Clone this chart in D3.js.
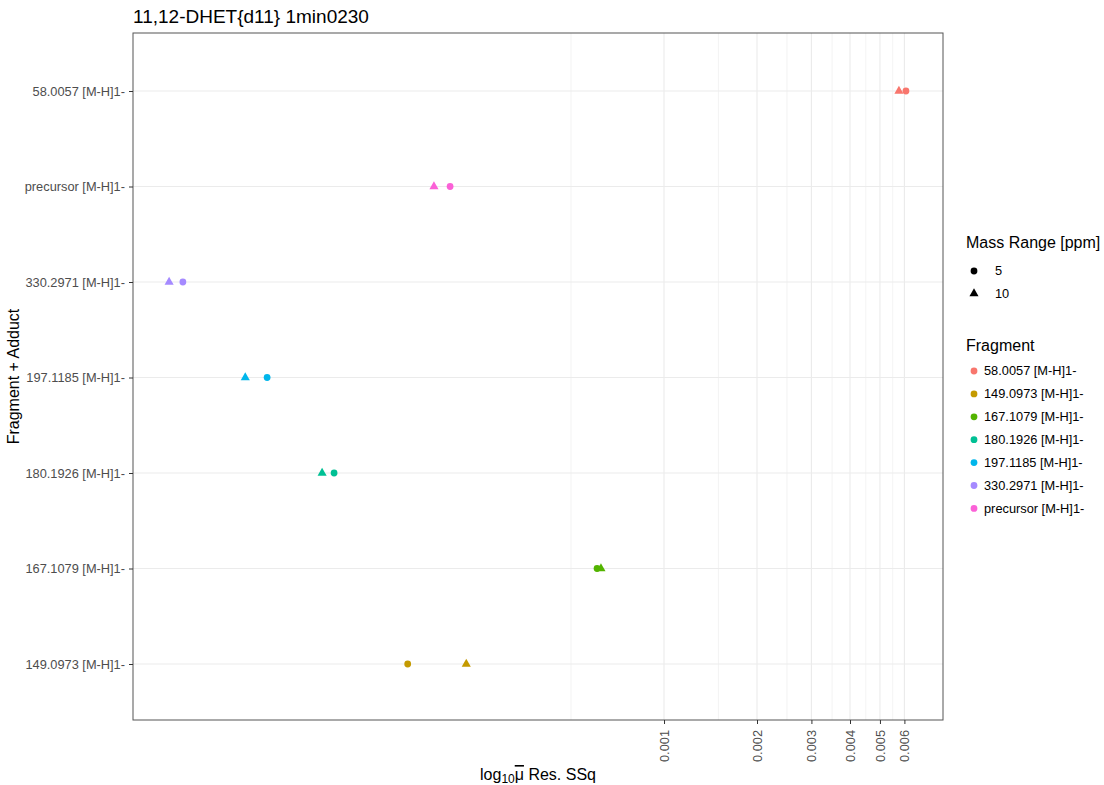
<!DOCTYPE html>
<html>
<head>
<meta charset="utf-8">
<script src="https://cdn.jsdelivr.net/npm/d3@7"></script>
<style>
  body { margin: 0; background: #fff; }
  svg { display: block; font-family: "Liberation Sans", Arial, sans-serif; }
</style>
</head>
<body>
<svg id="chart" width="1104" height="785"></svg>
<script>
// Fragment categories, top to bottom as drawn on the y axis
const fragments = ["58.0057 [M-H]1-", "precursor [M-H]1-", "330.2971 [M-H]1-",
  "197.1185 [M-H]1-", "180.1926 [M-H]1-", "167.1079 [M-H]1-", "149.0973 [M-H]1-"];
// Legend order for the colour scale
const fragmentLegend = ["58.0057 [M-H]1-", "149.0973 [M-H]1-", "167.1079 [M-H]1-",
  "180.1926 [M-H]1-", "197.1185 [M-H]1-", "330.2971 [M-H]1-", "precursor [M-H]1-"];
const fragmentColors = ["#F8766D", "#C49A00", "#53B400", "#00C094", "#00B6EB", "#A58AFF", "#FB61D7"];
const massRanges = ["5", "10"];
// Mean residual sum of squares per fragment (order of `fragments`)
const ssq5  = [0.00607, 0.000203, 0.0000277, 0.0000519, 0.0000855, 0.000607, 0.000148];
const ssq10 = [0.00576, 0.000180, 0.0000250, 0.0000441, 0.0000782, 0.000625, 0.000229];
const xTicks = [0.001, 0.002, 0.003, 0.004, 0.005, 0.006];
const xMinor = [0.0005, 0.0015, 0.0025, 0.0035, 0.0045, 0.0055];
const xDomain = [0.0000191, 0.0080];

const svg = d3.select("#chart");
const P = { left: 133, right: 943, top: 33, bottom: 720 };

const x = d3.scaleLog().domain(xDomain).range([P.left, P.right]);
const y = d3.scalePoint().domain(fragments).range([91, 664]);
const color = d3.scaleOrdinal().domain(fragmentLegend).range(fragmentColors);
const shape = d3.scaleOrdinal().domain(massRanges).range([d3.symbolCircle, d3.symbolTriangle]);
const sizes = { "5": 36, "10": 36 };

const points = [];
fragments.forEach((f, i) => {
  points.push({ frag: f, range: "5", v: ssq5[i] });
  points.push({ frag: f, range: "10", v: ssq10[i] });
});

// Panel background and grid
svg.append("rect").attr("x", P.left).attr("y", P.top)
  .attr("width", P.right - P.left).attr("height", P.bottom - P.top).attr("fill", "#fff");

const grid = svg.append("g");
grid.selectAll(".minor").data(xMinor).join("line")
  .attr("x1", d => x(d)).attr("x2", d => x(d))
  .attr("y1", P.top).attr("y2", P.bottom)
  .attr("stroke", "#EBEBEB").attr("stroke-width", 0.6);
grid.selectAll(".major").data(xTicks).join("line")
  .attr("x1", d => x(d)).attr("x2", d => x(d))
  .attr("y1", P.top).attr("y2", P.bottom)
  .attr("stroke", "#EBEBEB").attr("stroke-width", 1.1);
grid.selectAll(".hmajor").data(fragments).join("line")
  .attr("x1", P.left).attr("x2", P.right)
  .attr("y1", d => y(d)).attr("y2", d => y(d))
  .attr("stroke", "#EBEBEB").attr("stroke-width", 1.1);

// Points
svg.append("g").selectAll("path").data(points).join("path")
  .attr("transform", d => `translate(${x(d.v)},${y(d.frag)})`)
  .attr("d", d => d3.symbol().type(shape(d.range)).size(sizes[d.range])())
  .attr("fill", d => color(d.frag));

// Panel border
svg.append("rect").attr("x", P.left).attr("y", P.top)
  .attr("width", P.right - P.left).attr("height", P.bottom - P.top)
  .attr("fill", "none").attr("stroke", "#555555").attr("stroke-width", 1);

// X axis
const xAxis = svg.append("g").attr("transform", `translate(0,${P.bottom})`)
  .call(d3.axisBottom(x).tickValues(xTicks).tickFormat(d3.format(".3f")).tickSizeInner(4).tickSizeOuter(0).tickPadding(3));
xAxis.select(".domain").remove();
xAxis.selectAll(".tick line").attr("stroke", "#333333");
xAxis.selectAll(".tick text")
  .attr("transform", "rotate(-90)")
  .attr("text-anchor", "end")
  .attr("x", -10).attr("y", 0).attr("dy", "0.35em")
  .attr("fill", "#4D4D4D").attr("font-size", 12.8);

// Y axis
const yAxis = svg.append("g").attr("transform", `translate(${P.left},0)`)
  .call(d3.axisLeft(y).tickSizeInner(4).tickSizeOuter(0).tickPadding(4));
yAxis.select(".domain").remove();
yAxis.selectAll(".tick line").attr("stroke", "#333333");
yAxis.selectAll(".tick text").attr("fill", "#4D4D4D").attr("font-size", 12.8);

// Title
svg.append("text").attr("x", P.left).attr("y", 23)
  .attr("font-size", 19).attr("fill", "#000").text("11,12-DHET{d11} 1min0230");

// Axis titles
const xt = svg.append("text").attr("x", (P.left + P.right) / 2).attr("y", 780)
  .attr("text-anchor", "middle").attr("font-size", 16).attr("fill", "#000");
xt.append("tspan").text("log");
xt.append("tspan").attr("font-size", 12).attr("dy", 3).text("10");
xt.append("tspan").attr("dy", -3).attr("style", "text-decoration: overline").text("μ");
xt.append("tspan").text(" Res. SSq");

svg.append("text")
  .attr("transform", `translate(19,${(P.top + P.bottom) / 2}) rotate(-90)`)
  .attr("text-anchor", "middle").attr("font-size", 16).attr("fill", "#000")
  .text("Fragment + Adduct");

// Legends
const lg = svg.append("g");
lg.append("text").attr("x", 966).attr("y", 248).attr("font-size", 16).text("Mass Range [ppm]");
massRanges.forEach((r, i) => {
  const cy = 271 + i * 22.5;
  lg.append("path").attr("transform", `translate(974,${cy})`)
    .attr("d", d3.symbol().type(shape(r)).size(sizes[r])()).attr("fill", "#000");
  lg.append("text").attr("x", 995).attr("y", cy).attr("dy", "0.35em")
    .attr("font-size", 12.8).attr("fill", "#000").text(r);
});
lg.append("text").attr("x", 966).attr("y", 351).attr("font-size", 16).text("Fragment");
fragmentLegend.forEach((f, i) => {
  const cy = 371 + i * 22.9;
  lg.append("path").attr("transform", `translate(974,${cy})`)
    .attr("d", d3.symbol().type(d3.symbolCircle).size(36)()).attr("fill", color(f));
  lg.append("text").attr("x", 984).attr("y", cy).attr("dy", "0.35em")
    .attr("font-size", 12.8).attr("fill", "#000").text(f);
});
</script>
</body>
</html>
